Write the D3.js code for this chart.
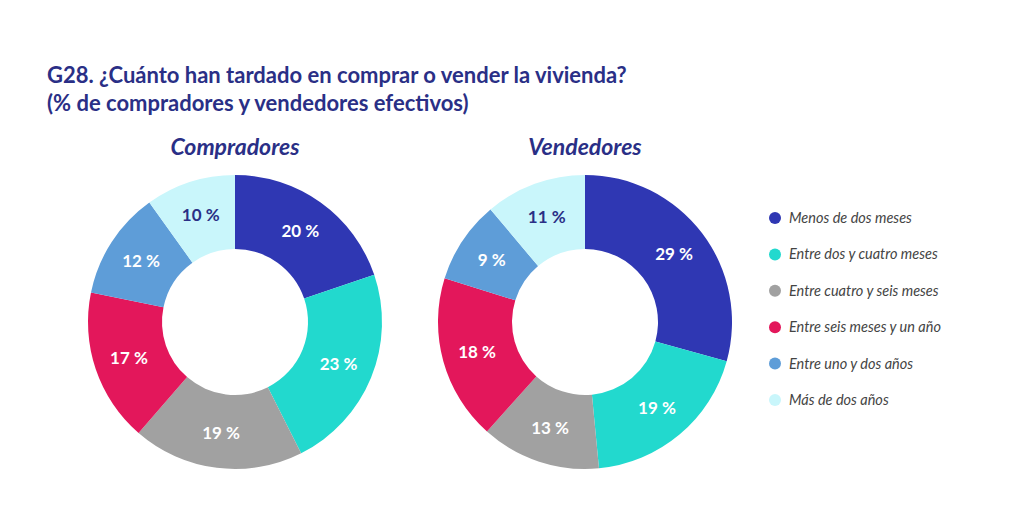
<!DOCTYPE html>
<html><head><meta charset="utf-8">
<script src="https://cdn.jsdelivr.net/npm/d3@7"></script>
<style>body{margin:0;background:#fff;}</style>
</head><body>
<svg id="c" width="1024" height="529"></svg>
<script>
const categories = ["Menos de dos meses","Entre dos y cuatro meses","Entre cuatro y seis meses","Entre seis meses y un año","Entre uno y dos años","Más de dos años"];
const compradores = [20,23,19,17,12,10];
const vendedores = [29,19,13,18,9,11];
const colors = ["#2f37b3","#22d9ce","#a1a1a1","#e3175b","#5e9dd8","#c9f6fb"];
const labelColors = ["#fff","#fff","#fff","#fff","#fff","#2a2f86"];

const svg = d3.select("#c");
const navy = "#2a2f86";
svg.append("text").attr("x",47).attr("y",83).attr("fill",navy)
  .attr("font-family","Lato, 'Open Sans', sans-serif").attr("font-weight",700).attr("font-size",22)
  .text("G28. ¿Cuánto han tardado en comprar o vender la vivienda?");
svg.append("text").attr("x",47).attr("y",111).attr("fill",navy)
  .attr("font-family","Lato, 'Open Sans', sans-serif").attr("font-weight",700).attr("font-size",22)
  .text("(% de compradores y vendedores efectivos)");

const pie = d3.pie().sort(null).value(d=>d);
const arc = d3.arc().innerRadius(73).outerRadius(147);
const lab = d3.arc().innerRadius(112).outerRadius(112);

function donut(cx, cy, title, vals){
  svg.append("text").attr("x",cx).attr("y",155).attr("text-anchor","middle").attr("fill",navy)
    .attr("font-family","Lato, sans-serif").attr("font-weight",700).attr("font-style","italic").attr("font-size",23)
    .text(title);
  const g = svg.append("g").attr("transform",`translate(${cx},${cy})`);
  const arcs = pie(vals);
  g.selectAll("path").data(arcs).join("path").attr("d",arc).attr("fill",(d,i)=>colors[i]);
  g.selectAll("text").data(arcs).join("text")
    .attr("transform",d=>`translate(${lab.centroid(d)})`)
    .attr("text-anchor","middle").attr("dy","0.35em")
    .attr("fill",(d,i)=>labelColors[i])
    .attr("font-family","Lato, sans-serif").attr("font-weight",700).attr("font-size",17)
    .text(d=>d.data+" %");
}
donut(235,322,"Compradores",compradores);
donut(585,322,"Vendedores",vendedores);

const y = d3.scalePoint().domain(categories).range([218,400]);
const lg = svg.append("g");
categories.forEach((c,i)=>{
  lg.append("circle").attr("cx",775).attr("cy",y(c)).attr("r",6).attr("fill",colors[i]);
  lg.append("text").attr("x",789).attr("y",y(c)).attr("dy","0.35em").attr("fill","#444")
    .attr("font-family","Lato, sans-serif").attr("font-style","italic").attr("font-size",14.5).text(c);
});
</script>
</body></html>
